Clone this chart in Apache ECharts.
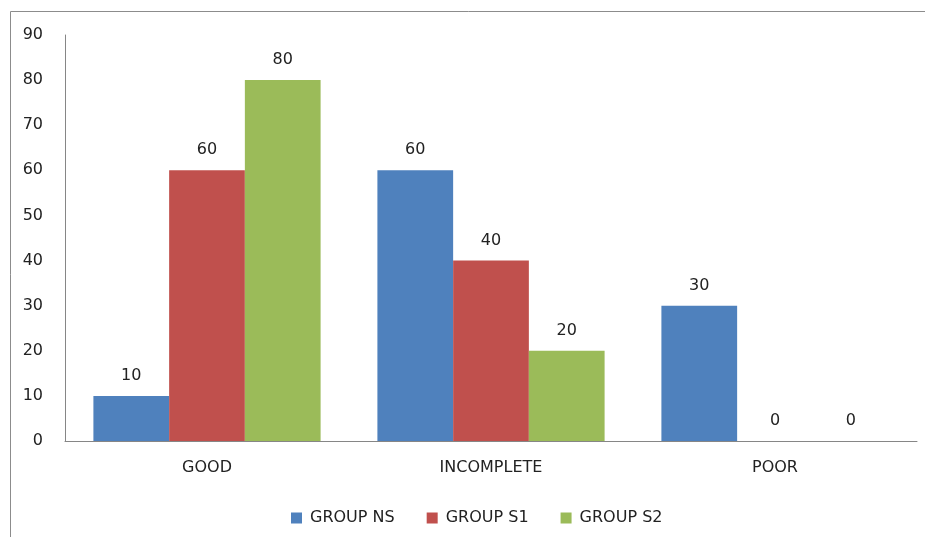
<!DOCTYPE html>
<html><head><meta charset="utf-8">
<script src="https://cdn.jsdelivr.net/npm/echarts@6/dist/echarts.min.js"></script>
<style>html,body{margin:0;padding:0;background:#fff}#c{width:925px;height:537px}</style>
</head><body><div id="c"></div>
<script>
const categories = ['GOOD', 'INCOMPLETE', 'POOR'];
const groupNS = [10, 60, 30];
const groupS1 = [60, 40, 0];
const groupS2 = [80, 20, 0];
const seriesNames = ['GROUP NS', 'GROUP S1', 'GROUP S2'];
const colors = ['#4F81BD', '#C0504D', '#9BBB59'];

const font = 'DejaVu Sans';
const fs = 16;
const chart = echarts.init(document.getElementById('c'));
const mk = (name, data, color) => ({
  name, type: 'bar', data, barGap: '0%', barCategoryGap: '20%',
  itemStyle: { color },
  label: { show: true, position: 'top', distance: 12, color: '#222', fontFamily: font, fontSize: fs }
});
chart.setOption({
  animation: false,
  color: colors,
  graphic: [{ type: 'rect', shape: { x: 10.5, y: 11.5, width: 930, height: 540 }, style: { fill: 'none', stroke: '#8c8c8c', lineWidth: 1 } }],
  grid: { left: 65, right: 8, top: 35, bottom: 96 },
  legend: {
    bottom: 6, left: 286, itemWidth: 11, itemHeight: 11, itemGap: 32,
    icon: 'rect', textStyle: { fontFamily: font, fontSize: fs, color: '#222', padding: [0, 0, 0, 3] },
    data: seriesNames
  },
  xAxis: {
    type: 'category', data: categories,
    axisLine: { lineStyle: { color: '#868686' } },
    axisTick: { show: false },
    axisLabel: { margin: 19, fontFamily: font, fontSize: fs, color: '#222' }
  },
  yAxis: {
    type: 'value', min: 0, max: 90, interval: 10,
    axisLine: { show: true, lineStyle: { color: '#868686' } },
    axisTick: { show: false },
    splitLine: { show: false },
    axisLabel: { margin: 22, fontFamily: font, fontSize: fs, color: '#222' }
  },
  series: [mk(seriesNames[0], groupNS, colors[0]), mk(seriesNames[1], groupS1, colors[1]), mk(seriesNames[2], groupS2, colors[2])]
});
</script></body></html>
